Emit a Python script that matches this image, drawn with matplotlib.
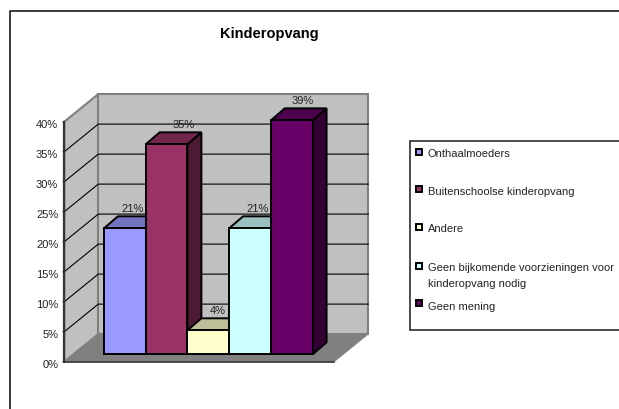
import matplotlib
matplotlib.use('Agg')
import matplotlib.pyplot as plt
from matplotlib.patches import Polygon, Rectangle
from matplotlib.lines import Line2D

categories = ['Onthaalmoeders', 'Buitenschoolse kinderopvang', 'Andere',
              'Geen bijkomende voorzieningen voor\nkinderopvang nodig', 'Geen mening']
values = [21, 35, 4, 21, 39]
value_labels = ['21%', '35%', '4%', '21%', '39%']
ticks = [0, 5, 10, 15, 20, 25, 30, 35, 40]
front_colors = ['#9999FF', '#993366', '#FFFFCC', '#CCFFFF', '#660066']
top_colors = ['#7373BF', '#73264D', '#BFBF99', '#99BFBF', '#4D004D']
side_colors = ['#4D4D80', '#4D1A33', '#808066', '#668080', '#330033']
label_nudge = [1, 10, 2, 1, 4]
legend_y = [151.7, 189, 226.7, 265.7, 302.7]
legend_text_y = [154, 192, 229, 276, 307]

W, H = 619, 409
plt.rcParams['font.family'] = ['Liberation Sans', 'DejaVu Sans']

fig = plt.figure(figsize=(W / 100, H / 100), dpi=100)

# overlay in image pixels for the frame, title and legend
bg = fig.add_axes([0, 0, 1, 1])
bg.set_xlim(0, W)
bg.set_ylim(H, 0)
bg.axis('off')
bg.add_line(Line2D([10, 10, W], [H, 10.7, 10.7], color='#1A1A1A', lw=1.2))
bg.text(269, 34, 'Kinderopvang', ha='center', va='center', fontsize=10.5, fontweight='bold')
bg.add_patch(Rectangle((410, 140.7), 215, 189.6, fc='white', ec='#1A1A1A', lw=1.1))
for i, name in enumerate(categories):
    bg.add_patch(Rectangle((416, legend_y[i] - 3), 6, 6, fc=front_colors[i], ec='black', lw=1.4))
    bg.text(428, legend_text_y[i], name, ha='left', va='center', fontsize=8,
            color='#222222', linespacing=1.7)

# chart axes: x in bar widths, y in percent, on the front plane of the box
ax = fig.add_axes([64.3 / W, 47.3 / H, 270 / W, 240 / H])
ax.set_xlim(-1.24, 5.23)
ax.set_ylim(0, 40)
ax.axis('off')
x0, x1 = ax.get_xlim()
wall_dx, wall_dy = 0.814, 4.6
bar_dx, bar_dy = 0.21, 1.23
depth_dx, depth_dy = 0.335, 2.0

# walls and floor
ax.add_patch(Polygon([(x0, 0), (x0 + wall_dx, wall_dy), (x0 + wall_dx, 40 + wall_dy), (x0, 40)],
                     fc='#C0C0C0', ec='#808080', lw=1.5, clip_on=False, zorder=1))
ax.add_patch(Polygon([(x0 + wall_dx, wall_dy), (x1 + wall_dx, wall_dy), (x1 + wall_dx, 40 + wall_dy),
                      (x0 + wall_dx, 40 + wall_dy)],
                     fc='#C0C0C0', ec='#808080', lw=1.5, clip_on=False, zorder=1))
ax.add_patch(Polygon([(x0, 0), (x1, 0), (x1 + wall_dx, wall_dy), (x0 + wall_dx, wall_dy)],
                     fc='#808080', ec='#808080', lw=0.5, clip_on=False, zorder=2))

# gridlines
for t in ticks[1:-1]:
    ax.plot([x0, x0 + wall_dx, x1 + wall_dx], [t, t + wall_dy, t + wall_dy],
            color='black', lw=0.8, clip_on=False, zorder=2)

# axis lines, ticks and tick labels
ax.plot([x0, x0], [0, 40], color='#333333', lw=1.6, clip_on=False, zorder=3)
ax.plot([x0, x1], [0, 0], color='#333333', lw=1.2, clip_on=False, zorder=3)
ax.set_yticks(ticks)
for t in ticks:
    ax.annotate('', xy=(x0, t), xytext=(-4, 0), textcoords='offset pixels',
                arrowprops=dict(arrowstyle='-', color='#333333', lw=1), annotation_clip=False)
    ax.annotate(f'{t}%', xy=(x0, t), xytext=(-6, -3), textcoords='offset pixels', ha='right', va='center',
                fontsize=8, color='#222222', annotation_clip=False)

# bars, left to right so each covers the side of the one before it
for i, v in enumerate(values):
    l, r = i - 0.5 + bar_dx, i + 0.5 + bar_dx
    b, t = bar_dy, v + bar_dy
    ax.add_patch(Polygon([(r, b), (r + depth_dx, b + depth_dy), (r + depth_dx, t + depth_dy), (r, t)],
                         fc=side_colors[i], ec='black', lw=1.4, zorder=4 + i, clip_on=False))
    ax.add_patch(Polygon([(l, t), (r, t), (r + depth_dx, t + depth_dy), (l + depth_dx, t + depth_dy)],
                         fc=top_colors[i], ec='black', lw=1.4, zorder=4 + i, clip_on=False))
    ax.add_patch(Polygon([(l, b), (r, b), (r, t), (l, t)],
                         fc=front_colors[i], ec='black', lw=1.4, zorder=4 + i, clip_on=False))
    ax.annotate(value_labels[i], xy=(i + bar_dx + depth_dx / 2, t + depth_dy),
                xytext=(label_nudge[i], 7), textcoords='offset pixels', ha='center', va='center',
                fontsize=8, color='#222222', zorder=20, annotation_clip=False)

fig.savefig('out.png', dpi=100)
